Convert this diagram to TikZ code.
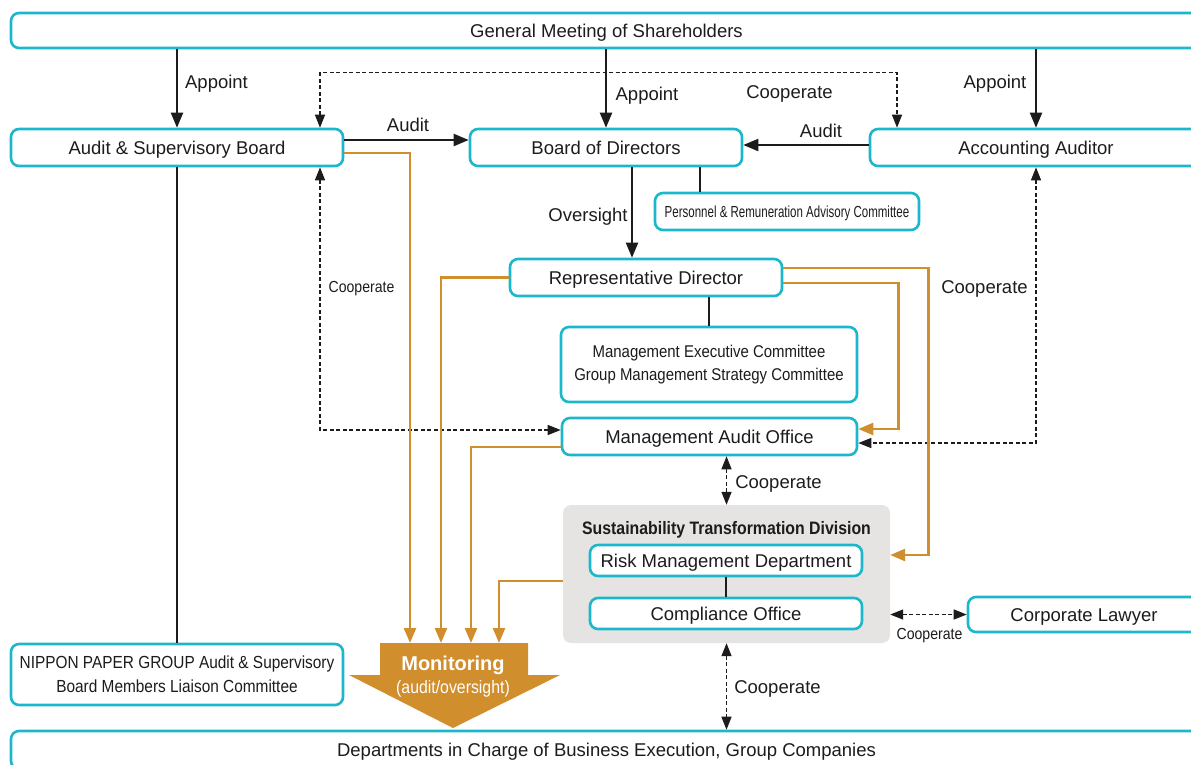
\documentclass[tikz,border=0pt]{standalone}
\usepackage{fontspec}
\setmainfont{Liberation Sans}
\newfontfamily\cond[FakeStretch=0.88]{Liberation Sans}
\newfontfamily\condx[FakeStretch=0.72]{Liberation Sans}
\usetikzlibrary{arrows.meta}
\definecolor{cyanB}{HTML}{1DB7CC}
\definecolor{ora}{HTML}{D08E2C}
\definecolor{greyF}{HTML}{E5E4E2}
\definecolor{txt}{HTML}{1E1B1C}
\newcommand\mainsz{\fontsize{18.5}{22}\selectfont}
\begin{document}
\begin{tikzpicture}[x=1pt,y=-1pt,
  box/.style={draw=cyanB, line width=2.6pt, rounded corners=8pt, fill=white, inner sep=0pt,
    text=txt, font=\mainsz, text height=13.2pt, text depth=0pt},
  mbox/.style={draw=cyanB, line width=2.6pt, rounded corners=8pt, fill=white, inner sep=0pt,
    text=txt, align=center},
  lbl/.style={font=\mainsz, text=txt, inner sep=0pt, text height=13.2pt, text depth=0pt},
  slbl/.style={font=\cond\fontsize{16}{19}\selectfont, text=txt, inner sep=0pt, text height=11.5pt, text depth=0pt},
  blk/.style={draw=txt, line width=2.1pt},
  barr/.style={blk, -{Triangle[length=15pt,width=12pt]}},
  oarr/.style={draw=ora, line width=2.5pt, -{Triangle[length=15pt,width=12pt]}},
  darr/.style={draw=txt, line width=1.3pt, dash pattern=on 4pt off 2.5pt,
    {Triangle[length=13pt,width=10pt]}-{Triangle[length=13pt,width=10pt]}}
]
\useasboundingbox (0,0) rectangle (1191,764);

% nodes
\node[box, minimum width=1191pt, minimum height=35pt] (gm) at (606.5,30.5) {General Meeting of Shareholders};
\node[box, minimum width=332pt, minimum height=37pt] (asb) at (177,147.5) {Audit \& Supervisory Board};
\node[box, minimum width=272pt, minimum height=37pt] (bod) at (606,147.5) {Board of Directors};
\node[box, minimum width=332pt, minimum height=37pt] (acc) at (1036,147.5) {Accounting Auditor};
\node[box, minimum width=264pt, minimum height=37pt, font=\condx\fontsize{16}{19}\selectfont, text height=11.5pt] (prc) at (787,211.5) {Personnel \& Remuneration Advisory Committee};
\node[box, minimum width=272pt, minimum height=37pt] (rep) at (646,277.5) {Representative Director};
\node[mbox, minimum width=296pt, minimum height=75pt, font=\cond\fontsize{17}{23}\selectfont] (mec) at (709,364.5) {Management Executive Committee\\Group Management Strategy Committee};
\node[box, minimum width=295pt, minimum height=37pt] (mao) at (709.5,436.5) {Management Audit Office};
\node[fill=greyF, rounded corners=8pt, minimum width=327pt, minimum height=138pt, inner sep=0pt] (std) at (726.5,574) {};
\node[inner sep=0pt, text=txt, font=\cond\bfseries\fontsize{18}{21}\selectfont, text height=12.9pt, text depth=0pt] (stdt) at (726.5,528) {Sustainability Transformation Division};
\node[box, minimum width=272pt, minimum height=31pt] (rmd) at (726,560.5) {Risk Management Department};
\node[box, minimum width=272pt, minimum height=31pt] (co) at (726,613.5) {Compliance Office};
\node[box, minimum width=232pt, minimum height=35pt] (law) at (1084,614.5) {Corporate Lawyer};
\node[mbox, minimum width=332pt, minimum height=61pt, font=\cond\fontsize{17.5}{24}\selectfont] (npg) at (177,674.5) {NIPPON PAPER GROUP Audit \& Supervisory\\Board Members Liaison Committee};
\node[box, minimum width=1191pt, minimum height=38pt] (dep) at (606.5,750) {Departments in Charge of Business Execution, Group Companies};

% monitoring arrow
\fill[ora] (380,643) -- (528,643) -- (528,675) -- (560,675) -- (453,728) -- (349,675) -- (380,675) -- cycle;
\node[inner sep=0pt, text=white, font=\bfseries\fontsize{20}{24}\selectfont, text height=14.3pt, text depth=0pt] (mon) at (453,663) {Monitoring};
\node[inner sep=0pt, text=white, font=\cond\fontsize{18}{21}\selectfont] (mons) at (453,689) {(audit/oversight)};
\coordinate (m1) at (410,643);
\coordinate (m2) at (441,643);
\coordinate (m3) at (471,643);
\coordinate (m4) at (499,643);

% black connectors
\draw[barr] (asb.north |- gm.south) -- (asb.north);
\draw[barr] (bod.north |- gm.south) -- (bod.north);
\draw[barr] (acc.north |- gm.south) -- (acc.north);
\draw[barr] ([yshift=7.5pt]asb.east) -- ([yshift=7.5pt]asb.east -| bod.west);
\draw[barr] ([yshift=2.5pt]acc.west) -- ([yshift=2.5pt]acc.west -| bod.east);
\draw[barr] ([xshift=26pt]bod.south) -- ([xshift=26pt]bod.south |- rep.north);
\draw[blk] ([xshift=94pt]bod.south) -- ([xshift=94pt]bod.south |- prc.north);
\draw[blk] (mec.north |- rep.south) -- (mec.north);
\draw[blk] (asb.south) -- (npg.north);
\draw[blk] (rmd.south) -- (co.north);

% dashed cooperate
\draw[darr] ([xshift=143pt]asb.north) -- ++(0,-55) -| ([xshift=-139pt]acc.north);
\draw[darr] ([xshift=143pt]asb.south) |- ([yshift=6.5pt]mao.west);
\draw[darr] (acc.south) |- ([yshift=-6.5pt]mao.east);
\draw[darr] (std.north |- mao.south) -- (std.north);
\draw[darr] (std.south) -- (std.south |- dep.north);
\draw[darr] (std.east |- law.west) -- (law.west);

% orange monitoring lines
\draw[oarr] ([yshift=-5.5pt]asb.east) -| (m1);
\draw[oarr] (rep.west) -| (m2);
\draw[oarr] ([yshift=-10.5pt]mao.west) -| (m3);
\draw[oarr] ([yshift=-7pt]std.west) -| (m4);
\draw[oarr] ([yshift=9.5pt]rep.east) -- ++(145,0) |- ([yshift=19pt]std.east);
\draw[oarr] ([yshift=-5.5pt]rep.east) -- ++(115,0) |- ([yshift=7.5pt]mao.east);

% labels
\node[lbl] (l1) at (216.5,82) {Appoint};
\node[lbl] (l2) at (647,94) {Appoint};
\node[lbl] (l3) at (995,82) {Appoint};
\node[lbl] (l4) at (789.5,92) {Cooperate};
\node[lbl] (l5) at (408,125) {Audit};
\node[lbl] (l6) at (821,131) {Audit};
\node[lbl] (l7) at (588,215) {Oversight};
\node[slbl] (l8) at (361.5,287) {Cooperate};
\node[lbl] (l9) at (984.5,287) {Cooperate};
\node[lbl] (l10) at (778.5,482) {Cooperate};
\node[lbl] (l11) at (777.5,687) {Cooperate};
\node[slbl] (l12) at (929.5,634) {Cooperate};
\end{tikzpicture}
\end{document}
